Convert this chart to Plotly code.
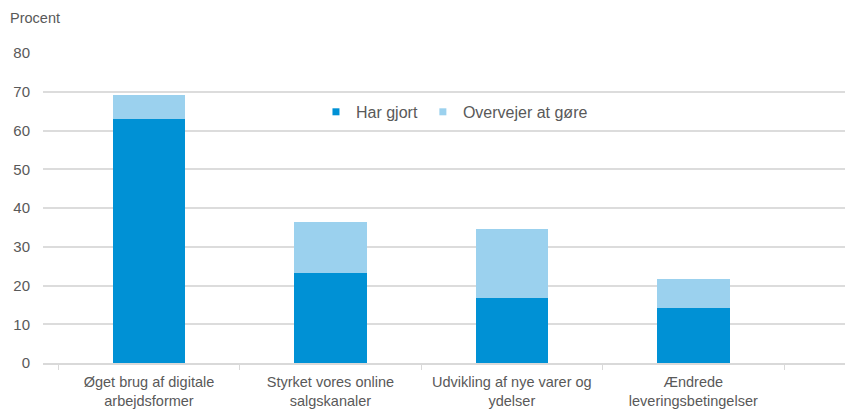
import plotly.graph_objects as go

categories = ["Øget brug af digitale<br>arbejdsformer",
              "Styrket vores online<br>salgskanaler",
              "Udvikling af nye varer og<br>ydelser",
              "Ændrede<br>leveringsbetingelser"]
har_gjort = [63.0, 23.2, 16.7, 14.2]
overvejer = [6.1, 13.1, 18.0, 7.5]
series_names = ["Har gjort", "Overvejer at gøre"]
y_ticks = [0, 10, 20, 30, 40, 50, 60, 70, 80]

dark = "#0091D5"
light = "#9BD1EE"
grey = "#595959"
font_family = "Liberation Sans, Arial, sans-serif"

fig = go.Figure()
fig.add_trace(go.Bar(x=categories, y=har_gjort, name=series_names[0],
                     marker=dict(color=dark, line=dict(width=0)), width=0.4,
                     showlegend=False))
fig.add_trace(go.Bar(x=categories, y=overvejer, name=series_names[1],
                     marker=dict(color=light, line=dict(width=0)), width=0.4,
                     showlegend=False))
# legend entries with small square swatches
for nm, col in zip(series_names, [dark, light]):
    fig.add_trace(go.Scatter(x=[None], y=[None], mode="markers", name=nm,
                             marker=dict(symbol="square", size=7, color=col)))

# page body has an 8px margin, so the figure is offset by 8px
fig.update_layout(
    width=845, height=402,
    barmode="stack",
    plot_bgcolor="white", paper_bgcolor="white",
    margin=dict(l=35, r=0, t=45, b=47),
    font=dict(family=font_family, size=14, color=grey),
    showlegend=True,
    legend=dict(orientation="h", x=0.337, y=0.81, xanchor="left", yanchor="middle",
                traceorder="normal",
                bgcolor="rgba(0,0,0,0)", font=dict(size=16, color=grey),
                itemwidth=30, tracegroupgap=0),
    annotations=[dict(text="Procent", xref="paper", yref="paper",
                      x=-0.0432, y=1.113, xanchor="left", yanchor="middle",
                      showarrow=False, font=dict(size=14.5, color=grey))],
)
fig.update_xaxes(
    type="category", range=[-0.584, 3.88], automargin=False,
    showline=True, linecolor="#D9D9D9", linewidth=1.5,
    ticks="outside", tickson="boundaries", ticklen=5, tickcolor="#D9D9D9",
    ticklabelstandoff=5,
    showgrid=False, tickfont=dict(size=14.5, color=grey),
)
fig.update_yaxes(
    range=[0, 80], tickvals=y_ticks, showgrid=True, gridcolor="#DCDCDC",
    gridwidth=1.5, zeroline=False, showline=False, automargin=False,
    tickfont=dict(size=15, color=grey), ticklabelstandoff=12,
)
fig.write_html("out.html")
